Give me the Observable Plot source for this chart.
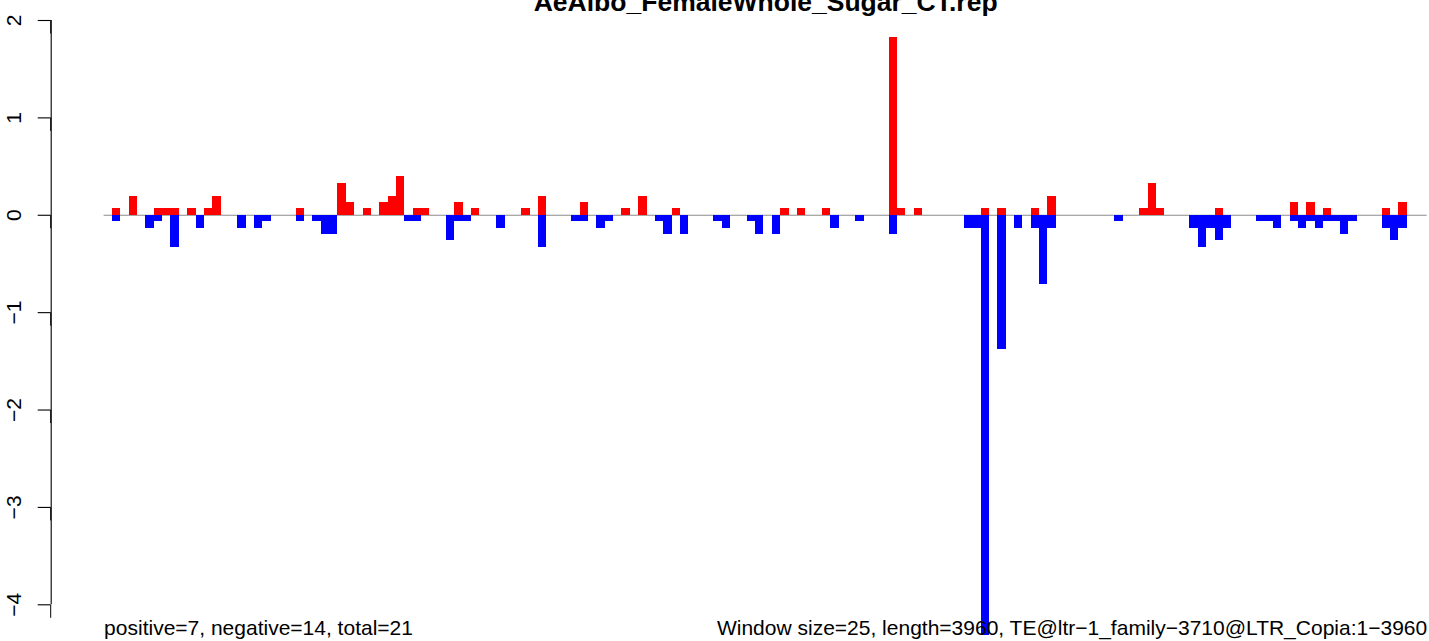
<!DOCTYPE html>
<html>
<head>
<meta charset="utf-8">
<script src="https://cdn.jsdelivr.net/npm/d3@7"></script>
<script src="https://cdn.jsdelivr.net/npm/@observablehq/plot@0.6"></script>
<style>
  html, body { margin: 0; padding: 0; background: #ffffff; overflow: hidden; }
  #chart svg { display: block; }
</style>
</head>
<body>
<div id="chart"></div>
<script>
// ---- data ----
const chartTitle = "AeAlbo_FemaleWhole_Sugar_CT.rep";
const seqLength = 3960;
const windowSize = 25;
const summaryLeft = "positive=7, negative=14, total=21";
const summaryRight = "Window size=25, length=3960, TE@ltr\u22121_family\u22123710@LTR_Copia:1\u22123960";
const yTicks = [2, 1, 0, -1, -2, -3, -4];

// window numbers (bar covers [w*windowSize, (w+1)*windowSize]) and values
const posWindows = [1, 3, 6, 7, 8, 10, 12, 13, 23, 28, 29, 31, 33, 34, 35, 37, 38, 42, 44, 50, 52, 57, 62, 64, 68, 81, 83, 86, 94, 95, 97, 105, 107, 111, 113, 124, 125, 126, 133, 142, 144, 146, 153, 155];
const posValues = [0.066, 0.197, 0.066, 0.066, 0.066, 0.066, 0.066, 0.197, 0.066, 0.328, 0.131, 0.066, 0.131, 0.197, 0.394, 0.066, 0.066, 0.131, 0.066, 0.066, 0.197, 0.131, 0.066, 0.197, 0.066, 0.066, 0.066, 0.066, 1.826, 0.066, 0.066, 0.066, 0.066, 0.066, 0.197, 0.066, 0.328, 0.066, 0.066, 0.131, 0.131, 0.066, 0.066, 0.131];

const negWindows = [1, 5, 6, 8, 11, 16, 18, 19, 23, 25, 26, 27, 36, 37, 41, 42, 43, 47, 52, 56, 57, 59, 60, 66, 67, 69, 73, 74, 77, 78, 80, 87, 90, 94, 103, 104, 105, 107, 109, 111, 112, 113, 121, 130, 131, 132, 133, 134, 138, 139, 140, 142, 143, 144, 145, 146, 147, 148, 149, 153, 154, 155];
const negValues = [-0.066, -0.131, -0.066, -0.328, -0.131, -0.131, -0.131, -0.066, -0.066, -0.066, -0.197, -0.197, -0.066, -0.066, -0.262, -0.066, -0.066, -0.131, -0.328, -0.066, -0.066, -0.131, -0.066, -0.066, -0.197, -0.197, -0.066, -0.131, -0.066, -0.197, -0.197, -0.131, -0.066, -0.197, -0.131, -0.131, -4.32, -1.374, -0.131, -0.131, -0.716, -0.131, -0.066, -0.131, -0.328, -0.131, -0.262, -0.131, -0.066, -0.066, -0.131, -0.066, -0.131, -0.066, -0.131, -0.066, -0.066, -0.197, -0.066, -0.131, -0.262, -0.131];

// ---- build tables ----
const posBars = posWindows.map((w, i) => ({start: w * windowSize, end: (w + 1) * windowSize, value: posValues[i]}));
const negBars = negWindows.map((w, i) => ({start: w * windowSize, end: (w + 1) * windowSize, value: negValues[i]}));
const xPad = 0.04 * seqLength; // R-style axis expansion
const yExtent = d3.extent(yTicks);
const font = "'Liberation Sans', Arial, Helvetica, sans-serif";
const fmt = d => (d < 0 ? "\u2212" + Math.abs(d) : String(d));

const chart = Plot.plot({
  width: 1429,
  height: 641,
  marginLeft: 50.7,
  marginRight: 0,
  marginTop: 20,
  marginBottom: 36.7,
  style: {fontFamily: font, background: "#ffffff", color: "#000000"},
  x: {domain: [-xPad, seqLength + xPad], range: [50.7, 1479.6], axis: null},
  y: {domain: yExtent, axis: null},
  marks: [
    Plot.ruleY([0], {x1: 0, x2: seqLength, stroke: "#8c8c8c", strokeWidth: 1.2}),
    Plot.rect(negBars, {x1: "start", x2: "end", y1: 0, y2: "value", fill: "#0000ff", shapeRendering: "crispEdges"}),
    Plot.rect(posBars, {x1: "start", x2: "end", y1: 0, y2: "value", fill: "#ff0000", shapeRendering: "crispEdges"}),
    // axis line and tick marks
    Plot.ruleX([-xPad], {y1: yExtent[0], y2: yExtent[1], stroke: "#000000", strokeWidth: 1.1}),
    Plot.ruleY(yTicks, {x1: -xPad, x2: -xPad, insetLeft: -13, stroke: "#000000", strokeWidth: 1.1}),
    Plot.axisY({
      ticks: yTicks,
      tickSize: 13,
      tickPadding: 24,
      tickFormat: fmt,
      rotate: -90,
      textAnchor: "middle",
      fontSize: 21,
      label: null
    }),
    Plot.text([chartTitle], {
      x: () => seqLength / 2,
      text: d => d,
      frameAnchor: "top",
      lineAnchor: "bottom",
      dy: -9.5,
      fontSize: 26.5,
      fontWeight: "bold",
      fill: "#000000"
    }),
    Plot.text([summaryLeft], {
      x: () => 0,
      text: d => d,
      frameAnchor: "bottom",
      lineAnchor: "bottom",
      textAnchor: "start",
      dy: 29.7,
      fontSize: 21,
      fill: "#000000"
    }),
    Plot.text([summaryRight], {
      x: () => seqLength,
      text: d => d,
      frameAnchor: "bottom",
      lineAnchor: "bottom",
      textAnchor: "end",
      dy: 29.7,
      fontSize: 21,
      fill: "#000000"
    })
  ]
});
document.getElementById("chart").appendChild(chart);
</script>
</body>
</html>
